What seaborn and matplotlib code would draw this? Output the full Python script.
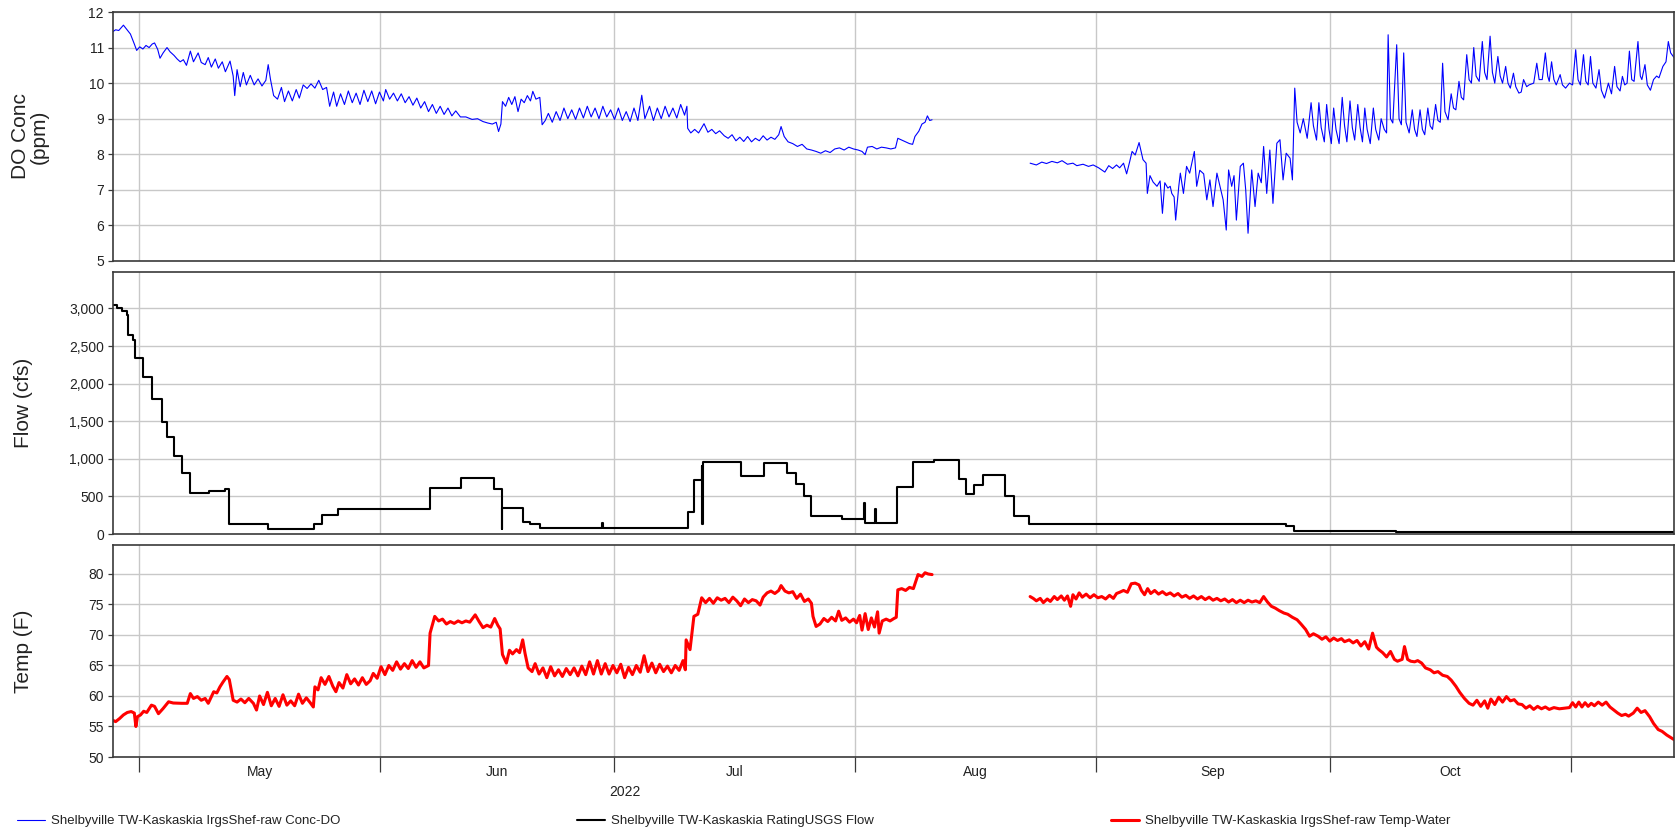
import numpy as np
import pandas as pd
import matplotlib
matplotlib.use("Agg")
import matplotlib.pyplot as plt
import matplotlib.dates as mdates
from matplotlib.ticker import FuncFormatter, FixedLocator, MultipleLocator
import seaborn as sns

# ---- data: (days after 2022-05-01 00:00, value) ----
do_early = [
    (-3.34, 11.45), (-3.0, 11.5), (-2.6, 11.48), (-2.0, 11.63), (-1.6, 11.52), (-1.1, 11.38), (-0.6, 11.1),
    (-0.3, 10.92), (0.1, 11.02), (0.5, 10.96), (0.9, 11.06), (1.3, 11.0), (1.7, 11.1), (2.0, 11.13),
    (2.4, 10.95), (2.7, 10.7), (3.1, 10.85), (3.6, 11.0), (4.0, 10.88), (4.5, 10.78), (4.9, 10.68),
    (5.3, 10.6), (5.7, 10.66), (6.1, 10.5), (6.6, 10.9), (7.0, 10.6), (7.6, 10.85), (8.0, 10.58),
    (8.5, 10.52), (8.9, 10.72), (9.3, 10.45), (9.8, 10.68), (10.2, 10.42), (10.7, 10.6), (11.1, 10.32),
    (11.7, 10.62), (12.1, 10.2), (12.3, 9.65), (12.6, 10.38), (13.0, 9.9), (13.4, 10.3), (13.8, 9.95),
    (14.3, 10.22), (14.8, 9.95), (15.3, 10.12), (15.8, 9.92), (16.3, 10.08), (16.6, 10.52), (16.9, 10.1),
    (17.3, 9.65), (17.8, 9.55), (18.3, 9.88), (18.7, 9.48), (19.2, 9.78), (19.7, 9.5), (20.2, 9.82),
    (20.6, 9.58), (21.1, 9.95), (21.6, 9.85), (22.1, 9.98), (22.6, 9.86), (23.1, 10.08), (23.6, 9.82),
    (24.1, 9.88), (24.5, 9.35), (25.0, 9.75), (25.4, 9.35), (25.9, 9.7), (26.4, 9.4), (26.9, 9.78),
    (27.4, 9.45), (27.9, 9.72), (28.4, 9.4), (28.9, 9.8), (29.4, 9.48), (29.9, 9.78), (30.4, 9.42),
    (30.9, 9.75), (31.4, 9.5), (31.7, 9.82), (32.2, 9.55), (32.7, 9.72), (33.2, 9.5), (33.7, 9.7),
    (34.2, 9.45), (34.7, 9.62), (35.2, 9.38), (35.7, 9.58), (36.2, 9.3), (36.7, 9.48), (37.2, 9.2),
    (37.7, 9.4), (38.2, 9.15), (38.7, 9.35), (39.2, 9.12), (39.7, 9.3), (40.2, 9.08), (40.7, 9.22),
    (41.3, 9.05), (42.0, 9.05), (42.8, 8.98), (43.5, 9.0), (44.2, 8.92), (44.8, 8.88), (45.4, 8.85),
    (45.9, 8.9), (46.2, 8.64), (46.5, 8.85), (46.7, 9.48), (47.1, 9.35), (47.5, 9.6), (47.9, 9.4),
    (48.3, 9.62), (48.7, 9.2), (49.1, 9.55), (49.5, 9.45), (49.9, 9.65), (50.3, 9.5), (50.6, 9.77),
    (51.0, 9.55), (51.5, 9.6), (51.8, 8.83), (52.2, 8.95), (52.6, 9.15), (53.1, 8.9), (53.6, 9.2),
    (54.1, 8.95), (54.6, 9.3), (55.1, 9.0), (55.6, 9.25), (56.1, 8.98), (56.6, 9.3), (57.1, 9.02),
    (57.6, 9.35), (58.1, 9.05), (58.6, 9.3), (59.1, 9.0), (59.6, 9.35), (60.1, 9.05), (60.6, 9.25),
    (61.1, 8.98), (61.6, 9.3), (62.1, 8.95), (62.6, 9.2), (63.1, 8.92), (63.6, 9.3), (64.1, 8.95),
    (64.6, 9.66), (65.0, 9.0), (65.6, 9.35), (66.1, 8.95), (66.6, 9.3), (67.1, 9.0), (67.6, 9.35),
    (68.1, 9.05), (68.6, 9.3), (69.1, 9.02), (69.6, 9.4), (70.1, 9.1), (70.4, 9.35), (70.5, 8.73),
    (70.9, 8.6), (71.4, 8.7), (71.9, 8.6), (72.6, 8.86), (73.1, 8.62), (73.6, 8.7), (74.1, 8.58),
    (74.6, 8.66), (75.2, 8.52), (75.7, 8.45), (76.2, 8.55), (76.7, 8.38), (77.2, 8.48), (77.7, 8.36),
    (78.2, 8.5), (78.7, 8.35), (79.2, 8.45), (79.7, 8.38), (80.2, 8.52), (80.7, 8.4), (81.2, 8.48),
    (81.7, 8.42), (82.2, 8.55), (82.5, 8.78), (82.9, 8.5), (83.4, 8.35), (84.0, 8.3), (84.6, 8.22),
    (85.2, 8.28), (85.8, 8.15), (86.4, 8.12), (87.0, 8.08), (87.6, 8.03), (88.2, 8.1), (88.8, 8.05),
    (89.4, 8.15), (90.0, 8.18), (90.6, 8.12), (91.2, 8.2), (91.8, 8.15), (92.4, 8.12), (92.9, 8.08),
    (93.3, 7.99), (93.6, 8.2), (94.2, 8.22), (94.8, 8.15), (95.4, 8.2), (96.0, 8.18), (96.6, 8.15),
    (97.2, 8.18), (97.5, 8.45), (98.0, 8.4), (98.5, 8.35), (99.0, 8.3), (99.4, 8.28), (99.7, 8.5),
    (100.2, 8.65), (100.6, 8.85), (101.0, 8.9), (101.3, 9.08), (101.6, 8.95), (101.9, 8.97),
]
do_late = [
    (114.5, 7.75), (115.3, 7.7), (116.0, 7.78), (116.6, 7.74), (117.3, 7.8), (118.0, 7.76), (118.6, 7.82),
    (119.3, 7.72), (120.0, 7.75), (120.5, 7.68), (121.3, 7.72), (122.0, 7.66), (122.6, 7.7), (123.3, 7.62),
    (124.1, 7.5), (124.6, 7.68), (125.1, 7.6), (125.6, 7.7), (126.0, 7.62), (126.5, 7.75), (126.9, 7.45),
    (127.3, 7.8), (127.6, 8.08), (128.0, 7.98), (128.5, 8.33), (129.0, 7.85), (129.4, 7.75), (129.56, 6.9),
    (129.9, 7.4), (130.3, 7.22), (130.8, 7.1), (131.2, 7.25), (131.5, 6.34), (131.8, 7.2), (132.2, 7.05),
    (132.5, 7.1), (132.7, 6.9), (133.0, 6.8), (133.2, 6.15), (133.6, 7.1), (133.8, 7.47), (134.2, 6.9),
    (134.6, 7.66), (135.0, 7.47), (135.6, 8.08), (135.9, 7.1), (136.3, 7.55), (136.8, 7.45), (137.2, 6.72),
    (137.6, 7.28), (138.0, 6.53), (138.5, 7.47), (138.9, 7.1), (139.3, 6.72), (139.7, 5.87), (140.0, 7.56),
    (140.4, 7.1), (140.7, 7.4), (141.0, 6.15), (141.5, 7.66), (141.9, 7.75), (142.2, 7.0), (142.5, 5.78),
    (142.97, 7.56), (143.4, 6.53), (143.8, 7.47), (144.2, 7.2), (144.5, 8.22), (144.9, 6.9), (145.3, 8.12),
    (145.7, 6.62), (146.2, 8.31), (146.6, 8.41), (147.0, 7.28), (147.4, 8.03), (147.9, 7.89), (148.2, 7.28),
    (148.5, 9.86), (148.8, 8.9), (149.2, 8.6), (149.6, 9.0), (150.1, 8.45), (150.6, 9.45), (150.9, 8.8),
    (151.3, 8.4), (151.6, 9.45), (151.9, 8.75), (152.3, 8.35), (152.6, 9.4), (152.9, 8.7), (153.2, 8.3),
    (153.5, 9.3), (153.8, 8.7), (154.2, 8.3), (154.6, 9.6), (154.9, 8.8), (155.2, 8.35), (155.6, 9.5),
    (155.9, 8.75), (156.2, 8.4), (156.6, 9.4), (156.9, 8.75), (157.2, 8.35), (157.5, 9.3), (157.8, 8.7),
    (158.2, 8.3), (158.6, 9.3), (158.9, 8.7), (159.3, 8.4), (159.6, 9.0), (160.0, 8.7), (160.3, 8.6),
    (160.5, 11.36), (160.8, 9.0), (161.1, 8.88), (161.6, 11.08), (161.9, 9.0), (162.2, 8.83), (162.5, 10.85),
    (162.8, 8.9), (163.2, 8.6), (163.6, 9.25), (163.9, 8.7), (164.2, 8.5), (164.6, 9.25), (164.9, 8.7),
    (165.2, 8.55), (165.6, 9.3), (165.9, 8.8), (166.2, 8.7), (166.6, 9.4), (166.9, 8.95), (167.2, 8.9),
    (167.5, 10.56), (167.8, 9.2), (168.2, 8.97), (168.6, 9.7), (168.9, 9.3), (169.2, 9.25), (169.6, 10.05),
    (169.9, 9.6), (170.2, 9.53), (170.6, 10.8), (170.9, 10.1), (171.2, 10.0), (171.5, 11.0), (171.8, 10.2),
    (172.2, 10.05), (172.6, 11.17), (172.9, 10.3), (173.2, 10.1), (173.6, 11.32), (173.9, 10.3), (174.2, 10.0),
    (174.6, 10.75), (174.9, 10.2), (175.2, 10.0), (175.6, 10.47), (175.9, 10.0), (176.2, 9.86), (176.6, 10.28),
    (176.9, 9.9), (177.3, 9.72), (177.6, 9.75), (177.9, 10.1), (178.3, 9.9), (178.6, 9.95), (179.2, 10.0),
    (179.6, 10.56), (179.9, 10.1), (180.3, 10.1), (180.7, 10.85), (181.0, 10.2), (181.2, 10.05), (181.5, 10.6),
    (181.8, 10.1), (182.1, 9.95), (182.6, 10.24), (182.9, 9.95), (183.3, 9.86), (183.8, 10.0), (184.2, 9.95),
    (184.6, 10.94), (184.9, 10.1), (185.2, 9.95), (185.6, 10.8), (185.9, 10.05), (186.2, 9.95), (186.5, 10.75),
    (186.8, 10.0), (187.2, 9.86), (187.6, 10.38), (187.9, 9.8), (188.3, 9.58), (188.8, 10.0), (189.2, 9.7),
    (189.6, 10.47), (189.9, 9.9), (190.3, 9.78), (190.6, 10.19), (190.9, 9.95), (191.2, 10.0), (191.5, 10.9),
    (191.8, 10.1), (192.1, 10.05), (192.6, 11.17), (192.9, 10.2), (193.1, 10.1), (193.5, 10.52), (193.8, 9.95),
    (194.2, 9.8), (194.6, 10.1), (195.0, 10.2), (195.3, 10.15), (195.8, 10.47), (196.2, 10.6), (196.5, 11.17),
    (196.8, 10.85), (197.3, 10.7),
]
flow_steps = [
    (-3.34, 3050), (-2.8, 3000), (-2.2, 2960), (-1.5, 2910), (-1.45, 2645), (-0.8, 2580), (-0.5, 2335),
    (0.47, 2090), (1.63, 1800), (2.92, 1495), (3.56, 1295), (4.5, 1040), (5.57, 805), (6.55, 545),
    (9.0, 575), (11.0, 595), (11.6, 133), (16.53, 66), (22.5, 133), (23.56, 253), (25.6, 336), (37.4, 610),
    (41.4, 748), (45.6, 593), (46.6, 62), (46.7, 350), (49.4, 159), (50.3, 128), (51.5, 75), (59.5, 150),
    (59.6, 75), (70.5, 296), (71.3, 717), (72.3, 903), (72.4, 128), (72.5, 956), (77.3, 770), (80.3, 947),
    (83.3, 805), (84.4, 668), (85.4, 504), (86.4, 239), (90.3, 204), (93.2, 416), (93.3, 150), (94.6, 327),
    (94.7, 150), (97.4, 624), (99.5, 960), (102.2, 985), (105.3, 735), (106.3, 527), (107.3, 646),
    (108.4, 783), (111.3, 504), (112.4, 239), (114.4, 128), (147.4, 106), (148.4, 40), (161.5, 27),
    (197.3, 27),
]
temp_early = [
    (-3.34, 56.0), (-3.0, 55.8), (-2.5, 56.3), (-2.0, 56.9), (-1.5, 57.3), (-1.0, 57.45), (-0.6, 57.2),
    (-0.4, 55.0), (-0.2, 56.6), (0.2, 56.9), (0.6, 57.5), (1.0, 57.3), (1.3, 57.9), (1.6, 58.5), (2.0, 58.3),
    (2.5, 57.1), (3.1, 57.95), (3.8, 59.05), (4.4, 58.85), (5.5, 58.8), (6.2, 58.8), (6.6, 60.4), (7.0, 59.6),
    (7.5, 59.9), (8.0, 59.3), (8.5, 59.6), (8.9, 58.8), (9.6, 60.7), (10.0, 60.5), (10.4, 61.5), (10.8, 62.3),
    (11.3, 63.2), (11.6, 62.7), (12.1, 59.3), (12.6, 59.0), (13.1, 59.5), (13.6, 58.9), (14.1, 59.6),
    (14.7, 58.8), (15.1, 57.7), (15.5, 60.0), (16.0, 58.6), (16.5, 60.6), (17.0, 58.4), (17.5, 59.6),
    (18.0, 58.3), (18.5, 60.2), (19.0, 58.5), (19.5, 59.2), (20.0, 58.4), (20.5, 60.3), (21.0, 58.8),
    (21.5, 59.7), (22.0, 58.9), (22.4, 58.2), (22.6, 61.5), (23.0, 61.0), (23.4, 63.0), (23.9, 61.9),
    (24.4, 63.2), (24.9, 61.6), (25.3, 60.7), (25.7, 62.2), (26.2, 61.3), (26.7, 63.5), (27.2, 62.0),
    (27.7, 62.8), (28.2, 61.8), (28.7, 63.0), (29.2, 61.9), (29.7, 62.5), (30.1, 63.7), (30.6, 62.9),
    (31.1, 64.8), (31.6, 63.5), (32.1, 65.0), (32.6, 64.2), (33.1, 65.6), (33.6, 64.4), (34.1, 65.3),
    (34.6, 64.5), (35.1, 65.8), (35.6, 64.7), (36.1, 65.6), (36.6, 64.6), (37.2, 65.0), (37.4, 70.3),
    (38.0, 73.05), (38.5, 72.3), (39.0, 72.6), (39.5, 71.8), (40.0, 72.2), (40.5, 71.9), (41.0, 72.3),
    (41.5, 72.0), (42.0, 72.3), (42.5, 72.1), (43.2, 73.3), (43.7, 72.2), (44.2, 71.2), (44.7, 71.6),
    (45.2, 71.3), (45.7, 72.7), (46.1, 71.6), (46.4, 71.0), (46.7, 66.8), (47.2, 65.4), (47.6, 67.5),
    (48.0, 66.9), (48.5, 67.6), (48.9, 67.1), (49.3, 69.2), (49.6, 67.0), (50.0, 64.6), (50.5, 64.0),
    (50.9, 65.3), (51.4, 63.6), (51.9, 64.6), (52.4, 63.0), (52.9, 64.8), (53.4, 63.3), (53.9, 64.3),
    (54.4, 63.2), (54.9, 64.5), (55.4, 63.5), (55.9, 64.6), (56.4, 63.3), (56.9, 64.9), (57.4, 63.5),
    (57.9, 65.6), (58.4, 63.6), (58.9, 65.8), (59.4, 63.6), (59.9, 65.3), (60.4, 63.6), (60.9, 65.0),
    (61.4, 63.8), (61.9, 65.2), (62.4, 63.0), (62.9, 64.7), (63.4, 63.5), (63.9, 65.0), (64.4, 63.9),
    (64.9, 66.6), (65.4, 64.0), (65.9, 65.4), (66.4, 63.8), (66.9, 65.2), (67.4, 64.0), (67.9, 64.9),
    (68.4, 63.8), (68.9, 65.0), (69.4, 64.2), (69.9, 65.8), (70.2, 64.3), (70.3, 69.2), (70.8, 67.6),
    (71.3, 73.05), (71.8, 73.4), (72.3, 76.1), (72.8, 75.3), (73.3, 76.0), (73.8, 75.2), (74.3, 76.1),
    (74.8, 75.7), (75.3, 76.0), (75.8, 75.3), (76.3, 76.2), (76.8, 75.6), (77.3, 74.8), (77.8, 75.9),
    (78.3, 75.3), (78.8, 75.8), (79.3, 75.6), (79.8, 74.9), (80.2, 76.2), (80.7, 76.9), (81.2, 77.2),
    (81.7, 76.8), (82.2, 77.3), (82.5, 78.1), (83.0, 77.2), (83.5, 76.9), (84.0, 77.1), (84.5, 76.0),
    (85.0, 76.7), (85.5, 75.5), (86.0, 75.9), (86.4, 75.2), (86.6, 73.05), (87.0, 71.4), (87.5, 71.8),
    (88.0, 72.7), (88.5, 72.2), (89.0, 72.9), (89.5, 72.3), (89.9, 73.9), (90.3, 72.4), (90.8, 72.8),
    (91.3, 72.1), (91.8, 72.6), (92.2, 72.0), (92.6, 73.2), (92.9, 70.8), (93.3, 73.5), (93.7, 70.9),
    (94.1, 72.8), (94.5, 71.3), (94.9, 73.8), (95.1, 70.3), (95.5, 72.3), (96.0, 72.6), (96.5, 72.3),
    (97.0, 72.7), (97.3, 72.9), (97.5, 77.4), (98.0, 77.6), (98.5, 77.3), (99.0, 77.8), (99.5, 77.6),
    (100.1, 79.9), (100.6, 79.6), (101.0, 80.2), (101.4, 80.0), (101.9, 79.9),
]
temp_late = [
    (114.5, 76.3), (114.9, 76.0), (115.3, 75.6), (115.8, 76.0), (116.2, 75.3), (116.7, 75.9), (117.1, 75.5),
    (117.6, 76.3), (118.0, 75.8), (118.5, 76.4), (118.9, 75.7), (119.3, 76.4), (119.7, 74.7), (120.0, 76.6),
    (120.4, 75.9), (120.8, 76.9), (121.2, 76.2), (121.7, 76.7), (122.2, 76.1), (122.7, 76.6), (123.2, 76.1),
    (123.7, 76.3), (124.2, 75.9), (124.7, 76.5), (125.2, 76.0), (125.6, 76.8), (126.0, 77.0), (126.5, 77.3),
    (127.0, 77.0), (127.5, 78.4), (128.0, 78.5), (128.5, 78.2), (128.8, 77.3), (129.2, 76.6), (129.6, 77.6),
    (130.0, 76.8), (130.5, 77.3), (131.0, 76.7), (131.5, 77.1), (132.0, 76.6), (132.5, 76.9), (133.0, 76.4),
    (133.5, 76.8), (134.0, 76.2), (134.5, 76.5), (135.0, 76.0), (135.5, 76.4), (136.0, 75.9), (136.5, 76.3),
    (137.0, 75.8), (137.5, 76.2), (138.0, 75.7), (138.5, 76.0), (139.0, 75.6), (139.5, 75.9), (140.0, 75.4),
    (140.5, 75.8), (141.0, 75.3), (141.5, 75.7), (142.0, 75.3), (142.5, 75.7), (143.0, 75.4), (143.5, 75.6),
    (144.0, 75.3), (144.5, 76.3), (145.0, 75.4), (145.5, 74.7), (146.0, 74.4), (146.5, 74.0), (147.1, 73.6),
    (147.6, 73.4), (148.2, 72.9), (148.8, 72.5), (149.3, 71.8), (149.9, 70.9), (150.4, 69.8), (150.9, 70.2),
    (151.5, 69.8), (152.0, 69.3), (152.5, 69.7), (153.0, 69.0), (153.5, 69.5), (154.0, 69.1), (154.5, 69.4),
    (154.9, 68.9), (155.5, 69.2), (156.0, 68.7), (156.5, 69.1), (157.0, 68.2), (157.5, 68.9), (158.0, 67.7),
    (158.5, 70.3), (159.0, 68.0), (159.3, 67.6), (159.8, 67.1), (160.3, 66.4), (160.8, 67.3), (161.3, 66.0),
    (161.7, 65.7), (162.3, 66.0), (162.6, 68.1), (163.0, 66.0), (163.4, 65.7), (163.9, 65.6), (164.3, 65.8),
    (164.8, 65.4), (165.3, 64.6), (165.9, 64.3), (166.4, 63.8), (166.9, 64.0), (167.5, 63.4), (168.1, 63.2),
    (168.6, 62.6), (169.2, 61.6), (169.7, 60.6), (170.3, 59.6), (170.9, 58.8), (171.4, 58.5), (171.9, 59.3),
    (172.4, 58.3), (172.9, 59.2), (173.3, 58.0), (173.7, 59.5), (174.2, 58.6), (174.7, 59.8), (175.2, 59.0),
    (175.7, 59.9), (176.2, 59.2), (176.7, 59.4), (177.2, 58.7), (177.7, 58.6), (178.2, 58.0), (178.7, 58.4),
    (179.2, 57.8), (179.7, 58.3), (180.2, 57.9), (180.7, 58.2), (181.2, 57.8), (181.8, 58.1), (182.5, 57.9),
    (183.2, 58.0), (183.8, 58.1), (184.2, 58.9), (184.6, 58.2), (185.0, 59.0), (185.4, 58.2), (185.8, 58.9),
    (186.2, 58.3), (186.6, 58.8), (187.0, 58.4), (187.5, 59.0), (188.0, 58.5), (188.5, 59.0), (189.0, 58.2),
    (189.5, 57.7), (190.0, 57.2), (190.5, 56.8), (191.0, 57.0), (191.4, 56.7), (192.0, 57.2), (192.5, 58.0),
    (193.0, 57.3), (193.5, 57.6), (194.1, 56.6), (194.6, 55.5), (195.2, 54.5), (195.7, 54.2), (196.3, 53.6),
    (196.8, 53.2), (197.3, 52.8),
]

do_ticks = [5, 6, 7, 8, 9, 10, 11, 12]
flow_ticks = [0, 500, 1000, 1500, 2000, 2500, 3000]
temp_ticks = [50, 55, 60, 65, 70, 75, 80]
month_starts = ["2022-05-01", "2022-06-01", "2022-07-01", "2022-08-01",
                "2022-09-01", "2022-10-01", "2022-11-01", "2022-12-01"]
year_label = "2022"
legend_labels = [
    "Shelbyville TW-Kaskaskia IrgsShef-raw Conc-DO",
    "Shelbyville TW-Kaskaskia RatingUSGS Flow",
    "Shelbyville TW-Kaskaskia IrgsShef-raw Temp-Water",
]

ORIGIN = pd.Timestamp("2022-05-01")


def to_frame(*segments):
    parts = []
    for k, seg in enumerate(segments):
        d = np.array(seg, dtype=float)
        parts.append(pd.DataFrame({
            "time": ORIGIN + pd.to_timedelta(d[:, 0], unit="D"),
            "value": d[:, 1],
            "segment": k,
        }))
    return pd.concat(parts, ignore_index=True)


do_df = to_frame(do_early, do_late)
flow_df = to_frame(flow_steps)
temp_df = to_frame(temp_early, temp_late)

# ---- styling ----
sns.set_style("white")
plt.rcParams["font.family"] = ["Liberation Sans", "DejaVu Sans"]
TXT = "#222222"
SPINE = "#3a3a3a"
GRID = "#c8c8c8"

fig = plt.figure(figsize=(16.75, 8.32), dpi=100)
W, H = 1675.0, 832.0
left, right = 113 / W, 1674 / W


def make_ax(top_px, bottom_px):
    return fig.add_axes([left, 1 - bottom_px / H, right - left, (bottom_px - top_px) / H])


ax_do = make_ax(12, 261)
ax_fl = make_ax(272, 534)
ax_tp = make_ax(545, 757)

sns.lineplot(data=do_df, x="time", y="value", units="segment", estimator=None,
             color="#0000ff", lw=0.8, ax=ax_do, legend=False)
sns.lineplot(data=flow_df, x="time", y="value", units="segment", estimator=None,
             color="#000000", lw=1.5, drawstyle="steps-post", ax=ax_fl, legend=False)
sns.lineplot(data=temp_df, x="time", y="value", units="segment", estimator=None,
             color="#ff0000", lw=2.2, ax=ax_tp, legend=False)

xmin = ORIGIN + pd.Timedelta(days=-3.34)
xmax = ORIGIN + pd.Timedelta(days=197.23)
starts = pd.to_datetime(month_starts)
mids = [a + (b - a) / 2 for a, b in zip(starts[:-1], starts[1:])]
start_nums = mdates.date2num(starts)
mid_nums = mdates.date2num(mids)

for ax, ticks, lim in ((ax_do, do_ticks, (5, 12)),
                       (ax_fl, flow_ticks, (0, 3485)),
                       (ax_tp, temp_ticks, (50, 84.75))):
    ax.set_xlim(xmin, xmax)
    ax.set_ylim(*lim)
    ax.set_yticks(ticks)
    ax.set_xlabel("")
    ax.xaxis.set_major_locator(FixedLocator(start_nums))
    ax.grid(True, which="major", color=GRID, lw=1.0)
    for s in ax.spines.values():
        s.set_color(SPINE)
        s.set_linewidth(1.2)
    ax.tick_params(axis="y", which="major", direction="out", length=3.5, width=0.9,
                   color=SPINE, labelsize=10, labelcolor=TXT, pad=3, left=True)
    ax.set_axisbelow(True)

for ax in (ax_do, ax_fl):
    ax.tick_params(axis="x", which="both", length=0, labelbottom=False, bottom=False)

ax_fl.yaxis.set_major_formatter(FuncFormatter(lambda v, p: f"{int(v):,}"))

# bottom date axis: long ticks at month starts, month names centred in each month
ax_tp.xaxis.set_minor_locator(FixedLocator(mid_nums))
ax_tp.xaxis.set_minor_formatter(FuncFormatter(lambda v, p: mdates.num2date(v).strftime("%b")))
ax_tp.xaxis.set_major_formatter(FuncFormatter(lambda v, p: ""))
ax_tp.tick_params(axis="x", which="major", direction="out", length=11, width=0.9,
                  color=SPINE, bottom=True)
ax_tp.tick_params(axis="x", which="minor", length=0, labelsize=10, labelcolor=TXT, pad=6)

ax_do.set_ylabel("DO Conc\n(ppm)", fontsize=15, color=TXT, linespacing=1.0)
ax_fl.set_ylabel("Flow (cfs)", fontsize=15, color=TXT)
ax_tp.set_ylabel("Temp (F)", fontsize=15, color=TXT)
ax_do.yaxis.set_label_coords(-0.041, 0.5)
ax_fl.yaxis.set_label_coords(-0.051, 0.5)
ax_tp.yaxis.set_label_coords(-0.051, 0.5)

fig.text(625 / W, 1 - 792 / H, year_label, ha="center", va="center", fontsize=10, color=TXT)

# legend entries spread along the bottom
handles = [ax_do.lines[0], ax_fl.lines[0], ax_tp.lines[0]]
for h, lab, x0 in zip(handles, legend_labels, (17, 577, 1111)):
    fig.legend([h], [lab], loc="center left", bbox_to_anchor=(x0 / W, 1 - 821 / H),
               frameon=False, fontsize=9.5, handlelength=2.1, handletextpad=0.5,
               borderpad=0, borderaxespad=0, labelcolor=TXT)

fig.savefig("out.png", dpi=100, facecolor="white")
